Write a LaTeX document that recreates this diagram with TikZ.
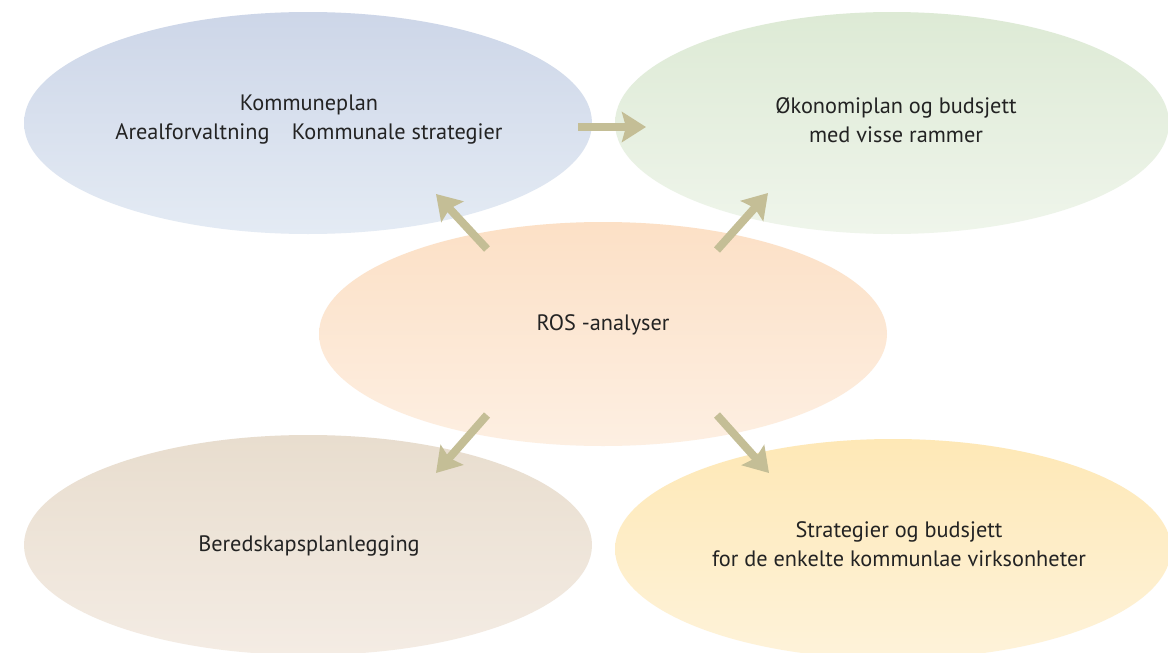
\documentclass[tikz,border=0pt]{standalone}
\usepackage{fontspec}
\setmainfont{PT Sans}
\usetikzlibrary{shapes.geometric,arrows.meta}
\definecolor{arrowc}{RGB}{196,190,150}
\definecolor{txt}{RGB}{35,35,35}
\definecolor{tlA}{RGB}{205,214,232}\definecolor{tlB}{RGB}{228,235,244}
\definecolor{trA}{RGB}{221,234,213}\definecolor{trB}{RGB}{239,245,235}
\definecolor{mA}{RGB}{252,224,198}\definecolor{mB}{RGB}{253,239,226}
\definecolor{blA}{RGB}{232,221,206}\definecolor{blB}{RGB}{244,236,228}
\definecolor{brA}{RGB}{254,232,182}\definecolor{brB}{RGB}{254,243,218}
\tikzset{
  blob/.style={ellipse, draw=none, inner sep=0pt, minimum width=568pt, minimum height=222pt},
  lbl/.style={text=txt, font=\fontsize{22.3}{29}\selectfont, align=center, inner sep=0pt},
  flow/.style={line width=8pt, draw=arrowc, -{Stealth[length=24pt,width=30pt,inset=4pt]}}
}
\begin{document}
\begin{tikzpicture}[x=1pt,y=-1pt]
\useasboundingbox (0,0) rectangle (1168,653);
\clip (0,0) rectangle (1168,653);
\fill[white] (0,0) rectangle (1168,653);
\node[blob, top color=tlA, bottom color=tlB] (tl) at (308,123) {};
\node[blob, minimum width=554pt, top color=trA, bottom color=trB] (tr) at (892,123) {};
\node[blob, minimum height=224pt, top color=mA, bottom color=mB] (mid) at (603,334) {};
\node[blob, minimum height=220pt, top color=blA, bottom color=blB] (bl) at (308,545) {};
\node[blob, minimum width=556pt, minimum height=220pt, top color=brA, bottom color=brB] (br) at (893,549) {};
\node[lbl] (tlt) at (309,120) {Kommuneplan\\Arealforvaltning\hspace{1em}Kommunale strategier};
\node[lbl] (trt) at (896,120) {Økonomiplan og budsjett\\med visse rammer};
\node[lbl] (midt) at (603,325) {ROS -analyser};
\node[lbl] (blt) at (309,546) {Beredskapsplanlegging};
\node[lbl] (brt) at (899,544) {Strategier og budsjett\\for de enkelte kommunlae virksonheter};
\coordinate (h1) at (578,127); \coordinate (h2) at (646,127);
\coordinate (ul1) at (487,249); \coordinate (ul2) at (436,194);
\coordinate (ur1) at (717,250); \coordinate (ur2) at (768,193);
\coordinate (dl1) at (487,415); \coordinate (dl2) at (436,473);
\coordinate (dr1) at (717,415); \coordinate (dr2) at (769,473);
\draw[flow] (h1) -- (h2);
\draw[flow] (ul1) -- (ul2);
\draw[flow] (ur1) -- (ur2);
\draw[flow] (dl1) -- (dl2);
\draw[flow] (dr1) -- (dr2);
\end{tikzpicture}
\end{document}
